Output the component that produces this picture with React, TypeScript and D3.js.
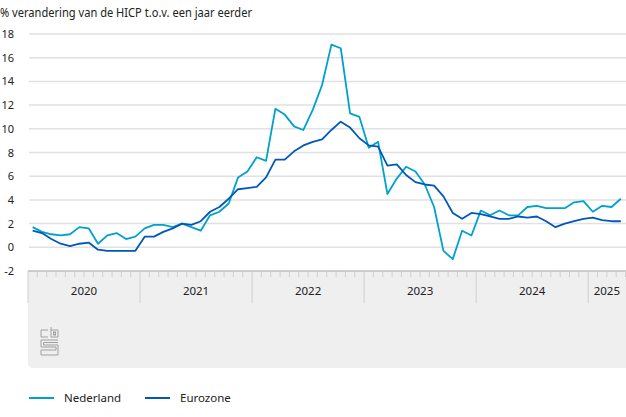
import React from "react";
import * as d3 from "d3";

const title = "% verandering van de HICP t.o.v. een jaar eerder";
const years = ["2020", "2021", "2022", "2023", "2024", "2025"];
const yTicks = [-2, 0, 2, 4, 6, 8, 10, 12, 14, 16, 18];

// Jan 2020 .. Apr 2025 (monthly)
const nederland = [
  1.7, 1.3, 1.1, 1.0, 1.1, 1.7, 1.6, 0.3, 1.0, 1.2, 0.7, 0.9,
  1.6, 1.9, 1.9, 1.7, 2.0, 1.7, 1.4, 2.7, 3.0, 3.7, 5.9, 6.4,
  7.6, 7.3, 11.7, 11.2, 10.2, 9.9, 11.6, 13.7, 17.1, 16.8, 11.3, 11.0,
  8.4, 8.9, 4.5, 5.8, 6.8, 6.4, 5.3, 3.4, -0.3, -1.0, 1.4, 1.0,
  3.1, 2.7, 3.1, 2.7, 2.7, 3.4, 3.5, 3.3, 3.3, 3.3, 3.8, 3.9,
  3.0, 3.5, 3.4, 4.1,
];
const eurozone = [
  1.4, 1.2, 0.7, 0.3, 0.1, 0.3, 0.4, -0.2, -0.3, -0.3, -0.3, -0.3,
  0.9, 0.9, 1.3, 1.6, 2.0, 1.9, 2.2, 3.0, 3.4, 4.1, 4.9, 5.0,
  5.1, 5.9, 7.4, 7.4, 8.1, 8.6, 8.9, 9.1, 9.9, 10.6, 10.1, 9.2,
  8.6, 8.5, 6.9, 7.0, 6.1, 5.5, 5.3, 5.2, 4.3, 2.9, 2.4, 2.9,
  2.8, 2.6, 2.4, 2.4, 2.6, 2.5, 2.6, 2.2, 1.7, 2.0, 2.2, 2.4,
  2.5, 2.3, 2.2, 2.2,
];
const seriesNames = ["Nederland", "Eurozone"];
const colors = ["#00a1cd", "#0058b8"];

const W = 626;
const H = 417;
const left = 28;
const right = 625.5;
const bandTop = 271;
const bandBottom = 368;
const font = "'Noto Sans', 'Open Sans', sans-serif";

export default function App() {
  const nMonths = 64;
  const x = d3.scaleLinear().domain([0, nMonths]).range([left, right]);
  const y = d3.scaleLinear().domain([-2, 18]).range([bandTop, 34]);
  const line = d3
    .line<number>()
    .x((_, i) => x(i + 0.5))
    .y((d) => y(d));

  const monthTicks = d3.range(0, nMonths + 1);

  return (
    <svg
      width={W}
      height={H}
      style={{ position: "absolute", left: 0, top: 0, background: "#fff" }}
      fontFamily={font}
    >
      <text x={0} y={16.5} fontSize={12} fill="#222" textLength={252} lengthAdjust="spacingAndGlyphs">
        {title}
      </text>
      {yTicks.map((t) => (
        <g key={t}>
          {t > -2 && (
            <line x1={left + 1} x2={W} y1={y(t)} y2={y(t)} stroke="#e1e1e1" strokeWidth={1.5} />
          )}
          <text x={14} y={y(t) + 4} fontSize={11} fill="#222" textAnchor="end">
            {t}
          </text>
        </g>
      ))}
      {/* x band */}
      <path
        d={`M${left},${bandTop} H${W} V${bandBottom} H${left + 5} Q${left},${bandBottom} ${left},${bandBottom - 5} Z`}
        fill="#efefef"
      />
      <line x1={left} x2={W} y1={bandTop} y2={bandTop} stroke="#bdbdbd" strokeWidth={1.5} />
      {monthTicks.map((m) => {
        const isYear = m % 12 === 0;
        return (
          <line
            key={m}
            x1={x(m)}
            x2={x(m)}
            y1={bandTop}
            y2={isYear ? 303 : 277}
            stroke="#cfcfcf"
            strokeWidth={1}
          />
        );
      })}
      {years.map((yr, i) => {
        const a = i * 12;
        const b = Math.min(nMonths, a + 12);
        return (
          <text key={yr} x={(x(a) + x(b)) / 2} y={295} fontSize={11.5} fill="#222" textAnchor="middle">
            {yr}
          </text>
        );
      })}
      {/* cbs logo */}
      <g fill="none" stroke="#a0a0a0" strokeWidth={1}>
        <path d="M48,330 H41 V337 H48" />
        <path d="M51,327 V337 H58 V330 H51" />
        <rect x={53.5} y={332} width={2} height={3} />
        <path d="M58,340 H41 V347 H56 V350 H41 V355 H58 V345 H43.5 V342.5 H58" />
      </g>
      {[nederland, eurozone].map((s, i) => (
        <path key={i} d={line(s) || ""} fill="none" stroke={colors[i]} strokeWidth={1.8} strokeLinejoin="round" />
      ))}
      {/* legend */}
      {seriesNames.map((n, i) => {
        const lx = i === 0 ? 29 : 145;
        return (
          <g key={n}>
            <line x1={lx} x2={lx + 25} y1={398} y2={398} stroke={colors[i]} strokeWidth={2} />
            <text x={lx + 35} y={402} fontSize={11.5} fill="#222">
              {n}
            </text>
          </g>
        );
      })}
    </svg>
  );
}
